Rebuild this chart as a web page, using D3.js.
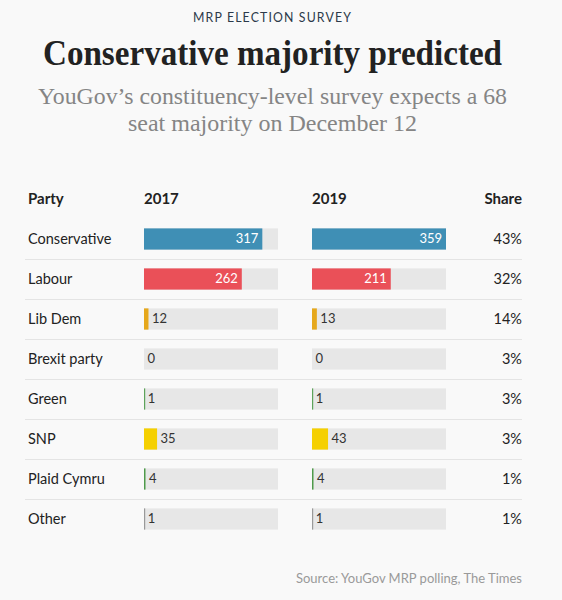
<!DOCTYPE html>
<html>
<head>
<meta charset="utf-8">
<script src="https://cdn.jsdelivr.net/npm/d3@7"></script>
<style>
  html, body { margin: 0; padding: 0; background: #f9f9f9; }
  svg { display: block; }
</style>
</head>
<body>
<svg id="chart" width="562" height="600"></svg>
<script>
// data
var parties = ["Conservative", "Labour", "Lib Dem", "Brexit party", "Green", "SNP", "Plaid Cymru", "Other"];
var seats2017 = [317, 262, 12, 0, 1, 35, 4, 1];
var seats2019 = [359, 211, 13, 0, 1, 43, 4, 1];
var shares = ["43%", "32%", "14%", "3%", "3%", "3%", "1%", "1%"];
var partyColours = ["#3f8fb5", "#ea5058", "#e6a81c", "#3bb7c4", "#5da35a", "#f5d000", "#4e9a4a", "#999999"];
var headers = ["Party", "2017", "2019", "Share"];

var svg = d3.select("#chart");
var sans = "'Gill Sans', Lato, 'Open Sans', sans-serif";
var serif = "'Liberation Serif', 'DejaVu Serif', serif";
var mid = 272.5;

// titles
svg.append("text")
    .attr("x", mid).attr("y", 22)
    .attr("text-anchor", "middle")
    .attr("font-family", sans).attr("font-size", 13)
    .attr("letter-spacing", 1.2)
    .attr("textLength", 159).attr("lengthAdjust", "spacingAndGlyphs")
    .attr("fill", "#2c3a4a")
    .text("MRP ELECTION SURVEY");

svg.append("text")
    .attr("x", mid).attr("y", 65)
    .attr("text-anchor", "middle")
    .attr("font-family", serif).attr("font-size", 36).attr("font-weight", "bold")
    .attr("textLength", 459).attr("lengthAdjust", "spacingAndGlyphs")
    .attr("fill", "#222")
    .text("Conservative majority predicted");

var subLines = ["YouGov\u2019s constituency-level survey expects a 68", "seat majority on December 12"];
var subWidths = [469, 289];
svg.selectAll(".sub")
    .data(subLines)
    .enter().append("text")
    .attr("class", "sub")
    .attr("x", mid)
    .attr("y", function(d, i) { return 104 + i * 27; })
    .attr("text-anchor", "middle")
    .attr("font-family", serif).attr("font-size", 23.5)
    .attr("textLength", function(d, i) { return subWidths[i]; })
    .attr("lengthAdjust", "spacingAndGlyphs")
    .attr("fill", "#858585")
    .text(function(d) { return d; });

// layout
var left = 28, right = 522;
var col2017 = 144, col2019 = 312, barW = 134;

var y = d3.scaleBand()
    .domain(parties)
    .range([219, 539])
    .paddingInner(0.47)
    .paddingOuter(0.235);

var x = d3.scaleLinear()
    .domain([0, d3.max(seats2019.concat(seats2017))])
    .range([0, barW]);

// header row
var headerX = [left, col2017, col2019, right];
svg.selectAll(".hdr")
    .data(headers)
    .enter().append("text")
    .attr("class", "hdr")
    .attr("x", function(d, i) { return headerX[i]; })
    .attr("y", 204)
    .attr("text-anchor", function(d, i) { return i == 3 ? "end" : "start"; })
    .attr("font-family", sans).attr("font-size", 15).attr("font-weight", "bold")
    .attr("fill", "#222")
    .text(function(d) { return d; });

// row separators
svg.selectAll(".sep")
    .data(parties.slice(0, -1))
    .enter().append("line")
    .attr("class", "sep")
    .attr("x1", 25).attr("x2", right)
    .attr("y1", function(d) { return y(d) + y.bandwidth() + y.step() * 0.235 + 0.5; })
    .attr("y2", function(d) { return y(d) + y.bandwidth() + y.step() * 0.235 + 0.5; })
    .attr("stroke", "#e4e4e4").attr("stroke-width", 1);

// party names
svg.selectAll(".party")
    .data(parties)
    .enter().append("text")
    .attr("class", "party")
    .attr("x", left)
    .attr("y", function(d) { return y(d) + y.bandwidth() / 2 + 5; })
    .attr("font-family", sans).attr("font-size", 14.5)
    .attr("fill", "#222")
    .text(function(d) { return d; });

// shares
svg.selectAll(".share")
    .data(shares)
    .enter().append("text")
    .attr("class", "share")
    .attr("x", right)
    .attr("y", function(d, i) { return y(parties[i]) + y.bandwidth() / 2 + 5; })
    .attr("text-anchor", "end")
    .attr("font-family", sans).attr("font-size", 14.5)
    .attr("fill", "#222")
    .text(function(d) { return d; });

const drawBars = (values, x0, cls) => {
    var rows = svg.selectAll("." + cls)
        .data(values)
        .enter().append("g")
        .attr("class", cls)
        .attr("transform", function(d, i) { return "translate(" + x0 + "," + y(parties[i]) + ")"; });

    // grey track
    rows.append("rect")
        .attr("width", barW)
        .attr("height", y.bandwidth())
        .attr("fill", "#e7e7e7");

    rows.append("rect")
        .attr("width", function(d) { return d > 0 ? Math.max(x(d), 1.2) : 0; })
        .attr("height", y.bandwidth())
        .attr("fill", function(d, i) { return partyColours[i]; });

    rows.append("text")
        .attr("x", function(d) { return d > 100 ? x(d) - 4 : x(d) + 3.5; })
        .attr("y", y.bandwidth() / 2 + 4.5)
        .attr("text-anchor", function(d) { return d > 100 ? "end" : "start"; })
        .attr("font-family", sans).attr("font-size", 13)
        .attr("fill", function(d) { return d > 100 ? "#fff" : "#333"; })
        .text(function(d) { return d; });
}

drawBars(seats2017, col2017, "b2017");
drawBars(seats2019, col2019, "b2019");

// source
svg.append("text")
    .attr("x", right).attr("y", 583)
    .attr("text-anchor", "end")
    .attr("font-family", sans).attr("font-size", 13)
    .attr("fill", "#9a9a9a")
    .text("Source: YouGov MRP polling, The Times");
</script>
</body>
</html>
